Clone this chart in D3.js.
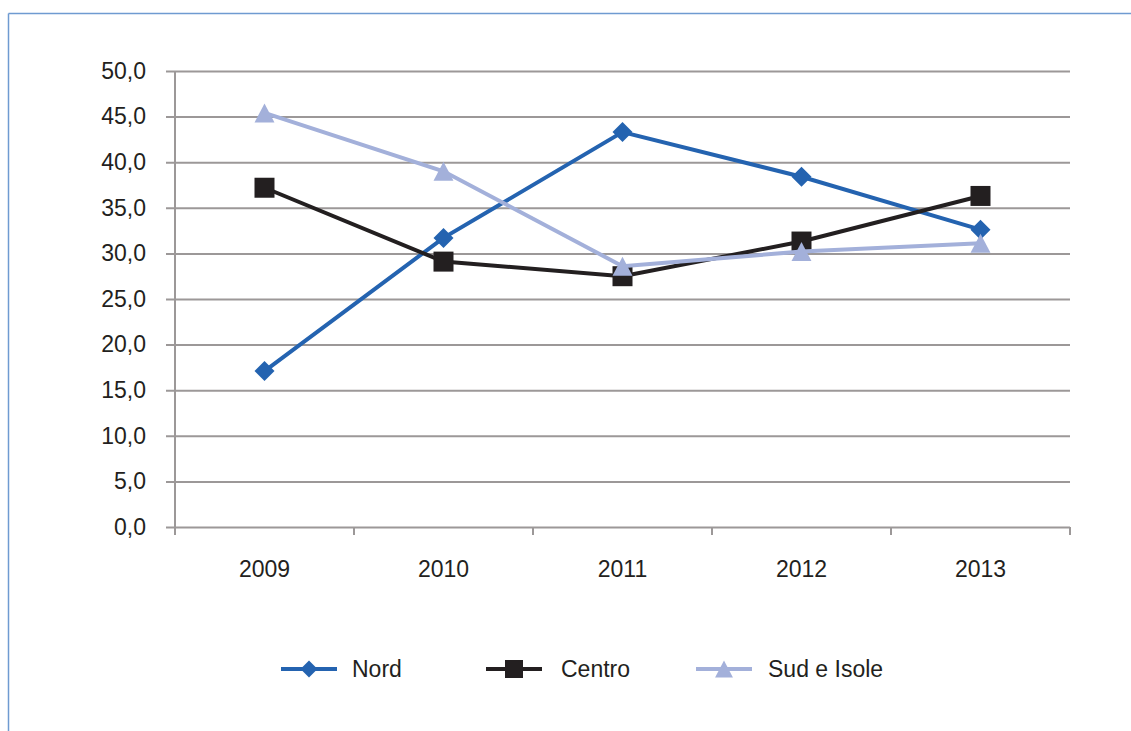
<!DOCTYPE html>
<html>
<head>
<meta charset="utf-8">
<script src="https://cdn.jsdelivr.net/npm/d3@7/dist/d3.min.js"></script>
<style>
  html, body { margin: 0; padding: 0; background: #fff; }
  svg { display: block; font-family: "Liberation Sans", Arial, Helvetica, sans-serif; }
</style>
</head>
<body>
<svg id="chart" width="1131" height="731"></svg>
<script>
// Categories and series
const years = ["2009", "2010", "2011", "2012", "2013"];
const nord = [17.1, 31.7, 43.3, 38.4, 32.6];
const centro = [37.2, 29.1, 27.5, 31.3, 36.3];
const sudIsole = [45.4, 39.0, 28.6, 30.2, 31.1];
const yTicks = [0, 5, 10, 15, 20, 25, 30, 35, 40, 45, 50];

const series = [
  { name: "Nord", values: nord, color: "#2463b0", marker: "diamond" },
  { name: "Centro", values: centro, color: "#231f20", marker: "square" },
  { name: "Sud e Isole", values: sudIsole, color: "#a3b0da", marker: "triangle" }
];

const svg = d3.select("#chart");
const plot = { left: 175, right: 1070, top: 71, bottom: 527 };
const fontSize = 23;

// Frame: top and left rule
svg.append("line").attr("x1", 8.5).attr("x2", 1131).attr("y1", 13.5).attr("y2", 13.5)
  .attr("stroke", "#6f9bd1").attr("stroke-width", 1.5);
svg.append("line").attr("x1", 8.5).attr("x2", 8.5).attr("y1", 13.5).attr("y2", 731)
  .attr("stroke", "#6f9bd1").attr("stroke-width", 1.5);

const x = d3.scaleBand().domain(years).range([plot.left, plot.right]).padding(0);
const y = d3.scaleLinear().domain([0, 50]).range([plot.bottom, plot.top]);
const fmt = v => d3.format(".1f")(v).replace(".", ",");

// Horizontal grid lines with left ticks
const yAxis = d3.axisLeft(y).tickValues(yTicks).tickFormat(fmt)
  .tickSize(-(plot.right - plot.left)).tickPadding(29);
const gy = svg.append("g").attr("transform", `translate(${plot.left},0)`).call(yAxis);
gy.select(".domain").remove();
gy.selectAll(".tick line").attr("stroke", "#9c9898").attr("stroke-width", 2).attr("x1", -9);
gy.selectAll(".tick text").attr("fill", "#231f20").attr("font-size", fontSize);

// Vertical axis line
svg.append("line").attr("x1", plot.left).attr("x2", plot.left)
  .attr("y1", plot.top).attr("y2", plot.bottom + 8)
  .attr("stroke", "#9c9898").attr("stroke-width", 2);

// Category boundary ticks below the baseline
const bounds = years.map(d => x(d)).concat([plot.right]);
svg.append("g").selectAll("line").data(bounds.slice(1)).join("line")
  .attr("x1", d => d).attr("x2", d => d)
  .attr("y1", plot.bottom).attr("y2", plot.bottom + 8)
  .attr("stroke", "#9c9898").attr("stroke-width", 2);

// Category labels
svg.append("g").selectAll("text").data(years).join("text")
  .attr("x", d => x(d) + x.bandwidth() / 2).attr("y", 577)
  .attr("text-anchor", "middle").attr("font-size", fontSize).attr("fill", "#231f20")
  .text(d => d);

const cx = d => x(d) + x.bandwidth() / 2;

function markerPath(type, s) {
  if (type === "diamond") return `M0,${-s}L${s},0L0,${s}L${-s},0Z`;
  if (type === "square") return `M${-s},${-s}H${s}V${s}H${-s}Z`;
  return `M0,${-s}L${s * 1.05},${s}H${-s * 1.05}Z`;
}
const markerSize = { diamond: 10, square: 10, triangle: 9.5 };

const line = d3.line().x((d, i) => cx(years[i])).y(d => y(d));

series.forEach(s => {
  const g = svg.append("g");
  g.append("path").datum(s.values).attr("d", line)
    .attr("fill", "none").attr("stroke", s.color).attr("stroke-width", 4);
  g.selectAll("path.m").data(s.values).join("path").attr("class", "m")
    .attr("transform", (d, i) => `translate(${cx(years[i])},${y(d)})`)
    .attr("d", markerPath(s.marker, markerSize[s.marker]))
    .attr("fill", s.color);
});

// Legend
const legendItems = [
  { x: 281, textX: 352 },
  { x: 486, textX: 561 },
  { x: 696, textX: 768 }
];
const lsize = { diamond: 8.5, square: 9, triangle: 8.5 };
series.forEach((s, i) => {
  const L = legendItems[i];
  const g = svg.append("g").attr("transform", `translate(${L.x},669)`);
  g.append("line").attr("x1", 0).attr("x2", 56).attr("y1", 0).attr("y2", 0)
    .attr("stroke", s.color).attr("stroke-width", 4);
  g.append("path").attr("transform", `translate(28,0)`)
    .attr("d", markerPath(s.marker, lsize[s.marker])).attr("fill", s.color);
  svg.append("text").attr("x", L.textX).attr("y", 677)
    .attr("font-size", fontSize).attr("fill", "#231f20").text(s.name);
});
</script>
</body>
</html>
